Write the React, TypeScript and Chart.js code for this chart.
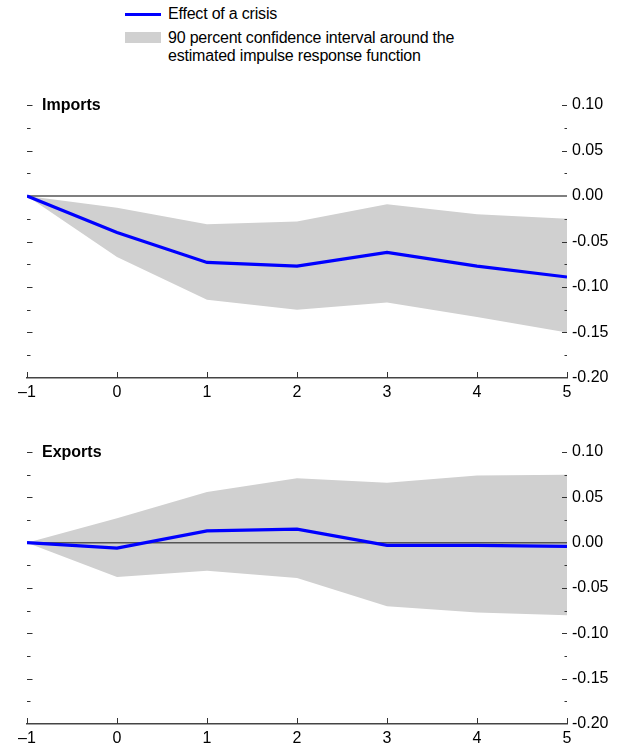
import React, { useEffect, useRef } from "react";
import { Chart, registerables } from "chart.js";

Chart.register(...registerables);

const horizons = [-1, 0, 1, 2, 3, 4, 5];
const xTickLabels = ["\u20131", "0", "1", "2", "3", "4", "5"];

const importsEffect = [0, -0.04, -0.073, -0.077, -0.062, -0.077, -0.089];
const importsUpper = [0, -0.013, -0.031, -0.028, -0.009, -0.02, -0.025];
const importsLower = [0, -0.067, -0.114, -0.125, -0.117, -0.133, -0.15];

const exportsEffect = [0, -0.006, 0.013, 0.015, -0.003, -0.003, -0.004];
const exportsUpper = [0, 0.027, 0.056, 0.071, 0.066, 0.074, 0.075];
const exportsLower = [0, -0.038, -0.031, -0.039, -0.07, -0.077, -0.08];

const yMin = -0.2;
const yMax = 0.1;
const yStep = 0.025;

const FONT = "'Liberation Sans', Arial, Helvetica, sans-serif";

const panelPlugin = {
  id: "panelDecor",
  afterDatasetsDraw(chart: any, _args: any, opts: any) {
    const { ctx, chartArea: a, scales } = chart;
    const ys = scales.y;
    const xs = scales.x;
    ctx.save();
    ctx.strokeStyle = "#333";
    ctx.lineWidth = 1;
    ys.ticks.forEach((t: any) => {
      const v = t.value;
      if (Math.abs(v - ys.min) < 1e-9 || Math.abs(v) < 1e-9) return;
      const py = Math.round(ys.getPixelForValue(v)) + 0.5;
      const major = Math.abs(Math.round(v * 1000) % 50) === 0;
      const lenL = major ? 5.5 : 3.5;
      const lenR = major ? 5 : 2.5;
      ctx.beginPath();
      ctx.moveTo(a.left, py);
      ctx.lineTo(a.left + lenL, py);
      ctx.moveTo(a.right - lenR, py);
      ctx.lineTo(a.right, py);
      ctx.stroke();
    });
    xs.ticks.forEach((t: any) => {
      const px = Math.round(xs.getPixelForValue(t.value)) + 0.5;
      ctx.beginPath();
      ctx.moveTo(px, a.bottom);
      ctx.lineTo(px, a.bottom - 6);
      ctx.stroke();
    });
    ctx.fillStyle = "#000";
    ctx.font = "bold 16px " + FONT;
    ctx.textBaseline = "middle";
    ctx.textAlign = "left";
    ctx.fillText(opts.title, a.left + 15, ys.getPixelForValue(ys.max) + 1);
    ctx.restore();
  },
};

type PanelProps = {
  title: string;
  effect: number[];
  upper: number[];
  lower: number[];
  top: number;
  height: number;
  axisHeight: number;
};

function Panel({ title, effect, upper, lower, top, height, axisHeight }: PanelProps) {
  const ref = useRef<HTMLCanvasElement>(null);
  useEffect(() => {
    const toPts = (arr: number[]) => horizons.map((h, i) => ({ x: h, y: arr[i] }));
    const chart = new Chart(ref.current as HTMLCanvasElement, {
      type: "line",
      data: {
        datasets: [
          {
            label: "Effect of a crisis",
            data: toPts(effect),
            borderColor: "#0000ff",
            borderWidth: 3.2,
            pointRadius: 0,
            fill: false,
            tension: 0,
          },
          {
            label: "zero",
            data: [
              { x: horizons[0], y: 0 },
              { x: horizons[horizons.length - 1], y: 0 },
            ],
            borderColor: "#555555",
            borderWidth: 1.5,
            pointRadius: 0,
            fill: false,
          },
          {
            label: "upper",
            data: toPts(upper),
            borderColor: "rgba(0,0,0,0)",
            backgroundColor: "#d0d0d0",
            pointRadius: 0,
            fill: "+1",
            tension: 0,
          },
          {
            label: "lower",
            data: toPts(lower),
            borderColor: "rgba(0,0,0,0)",
            pointRadius: 0,
            fill: false,
            tension: 0,
          },
        ],
      },
      options: {
        responsive: false,
        animation: false,
        events: [],
        layout: { padding: { left: 27, top: 25, right: 0, bottom: 0 } },
        plugins: {
          legend: { display: false },
          tooltip: { enabled: false },
          panelDecor: { title },
        } as any,
        scales: {
          x: {
            type: "linear",
            min: horizons[0],
            max: horizons[horizons.length - 1],
            ticks: {
              stepSize: 1,
              autoSkip: false,
              maxRotation: 0,
              padding: 5,
              color: "#000",
              font: { size: 16, family: FONT },
              callback: (v: any) => {
                const i = horizons.indexOf(Number(v));
                return i >= 0 ? xTickLabels[i] : "";
              },
            },
            grid: { display: false, drawTicks: false },
            border: { display: true, color: "#444", width: 1.5 },
            afterFit: (s: any) => {
              s.height = axisHeight;
            },
          },
          y: {
            type: "linear",
            position: "right",
            min: yMin,
            max: yMax,
            ticks: {
              stepSize: yStep,
              autoSkip: false,
              padding: 5,
              color: "#000",
              font: { size: 16, family: FONT },
              callback: (v: any) => {
                const n = Number(v);
                if (Math.abs(Math.round(n * 1000) % 50) !== 0) return "";
                if (Math.abs(n) < 1e-9) return "0.00";
                return n.toFixed(2);
              },
            },
            grid: { display: false, drawTicks: false },
            border: { display: false },
            afterFit: (s: any) => {
              s.width = 57;
            },
          },
        },
      } as any,
      plugins: [panelPlugin as any],
    });
    return () => chart.destroy();
  }, []);
  return (
    <canvas
      ref={ref}
      width={624}
      height={height}
      style={{ position: "absolute", left: 0, top, width: 624, height }}
    />
  );
}

const legendText: React.CSSProperties = {
  position: "absolute",
  left: 168,
  fontFamily: FONT,
  fontSize: 16,
  lineHeight: "18px",
  color: "#000",
  whiteSpace: "nowrap",
  letterSpacing: "-0.2px",
};

export default function App() {
  return (
    <div
      style={{
        position: "absolute",
        left: 0,
        top: 0,
        width: 624,
        height: 746,
        background: "#fff",
        overflow: "hidden",
      }}
    >
      <div style={{ position: "absolute", left: 125, top: 13, width: 36, height: 3, background: "#0000ff" }} />
      <div style={{ ...legendText, top: 5 }}>Effect of a crisis</div>
      <div style={{ position: "absolute", left: 125, top: 32, width: 36, height: 11, background: "#d0d0d0" }} />
      <div style={{ ...legendText, top: 28.5 }}>
        90 percent confidence interval around the
        <br />
        estimated impulse response function
      </div>
      <Panel
        title="Imports"
        effect={importsEffect}
        upper={importsUpper}
        lower={importsLower}
        top={80}
        height={330}
        axisHeight={32}
      />
      <Panel
        title="Exports"
        effect={exportsEffect}
        upper={exportsUpper}
        lower={exportsLower}
        top={427}
        height={319}
        axisHeight={22}
      />
    </div>
  );
}
